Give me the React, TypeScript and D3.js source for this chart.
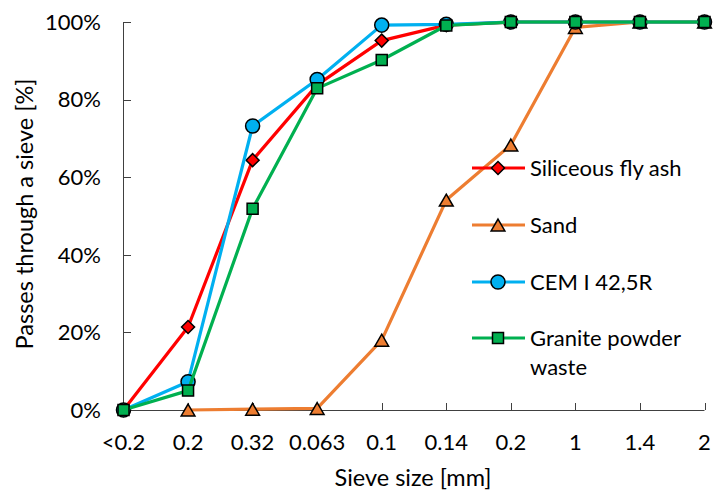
import React, { useEffect, useRef } from "react";
import * as d3 from "d3";

const sieveLabels = ["<0.2", "0.2", "0.32", "0.063", "0.1", "0.14", "0.2", "1", "1.4", "2"];
const yTicks = [0, 20, 40, 60, 80, 100];

const flyAsh = [0, 21.4, 64.4, 83.8, 95.2, 99.2, 100, 100, 100, 100];
const sand = [null, 0, 0.2, 0.4, 18, 54.1, 68.3, 98.6, 100, 100];
const cem = [0, 7.3, 73.2, 85.2, 99.2, 99.4, 100, 100, 100, 100];
const granite = [0, 5, 51.9, 82.9, 90.2, 99.1, 100, 100, 100, 100];

const seriesNames = ["Siliceous fly ash", "Sand", "CEM I 42,5R", "Granite powder waste"];
const seriesColors = ["#FF0000", "#ED7D31", "#00B0F0", "#00B050"];
const seriesMarkers = ["diamond", "triangle", "circle", "square"];

const FONT = "Lato, 'Open Sans', sans-serif";
const TICK_SIZE = "22px";
const TITLE_SIZE = "23.5px";

const App = () => {
  const svgRef = useRef<SVGSVGElement>(null);

  useEffect(() => {
    const svg = d3.select(svgRef.current);
    svg.selectAll("*").remove();

    const x = d3
      .scalePoint<number>()
      .domain(sieveLabels.map((_, i) => i))
      .range([123.5, 704.5]);
    const y = d3.scaleLinear().domain([0, 100]).range([410, 22]);

    // axes
    const axisColor = "#404040";
    svg
      .append("line")
      .attr("x1", 123.5)
      .attr("x2", 123.5)
      .attr("y1", 22)
      .attr("y2", 410)
      .attr("stroke", axisColor);
    svg
      .append("line")
      .attr("x1", 123.5)
      .attr("x2", 704.5)
      .attr("y1", 410.5)
      .attr("y2", 410.5)
      .attr("stroke", axisColor);

    svg
      .selectAll(".ytick")
      .data(yTicks)
      .enter()
      .append("line")
      .attr("x1", 123.5)
      .attr("x2", 131)
      .attr("y1", (d) => Math.round(y(d)) + 0.5)
      .attr("y2", (d) => Math.round(y(d)) + 0.5)
      .attr("stroke", axisColor);

    svg
      .selectAll(".ylab")
      .data(yTicks)
      .enter()
      .append("text")
      .attr("x", 101)
      .attr("y", (d) => y(d))
      .attr("dy", "0.35em")
      .attr("text-anchor", "end")
      .style("font-family", FONT)
      .style("font-size", TICK_SIZE)
      .style("fill", "#000")
      .text((d) => d + "%");

    svg
      .selectAll(".xtick")
      .data(sieveLabels.map((_, i) => i))
      .enter()
      .append("line")
      .attr("x1", (d) => Math.round(x(d)!) + 0.5)
      .attr("x2", (d) => Math.round(x(d)!) + 0.5)
      .attr("y1", 403)
      .attr("y2", 410)
      .attr("stroke", axisColor);

    svg
      .selectAll(".xlab")
      .data(sieveLabels)
      .enter()
      .append("text")
      .attr("x", (_, i) => x(i)!)
      .attr("y", 442)
      .attr("dy", "0.35em")
      .attr("text-anchor", "middle")
      .style("font-family", FONT)
      .style("font-size", TICK_SIZE)
      .style("fill", "#000")
      .text((d) => d);

    svg
      .append("text")
      .attr("x", 413)
      .attr("y", 478)
      .attr("dy", "0.35em")
      .attr("text-anchor", "middle")
      .style("font-family", FONT)
      .style("font-size", TITLE_SIZE)
      .text("Sieve size [mm]");

    svg
      .append("text")
      .attr("transform", "translate(25,214) rotate(-90)")
      .attr("dy", "0.35em")
      .attr("text-anchor", "middle")
      .style("font-family", FONT)
      .style("font-size", TITLE_SIZE)
      .text("Passes through a sieve [%]");

    const symbolFor = (m: string) => {
      if (m === "diamond") return d3.symbol().type(d3.symbolSquare).size(85);
      if (m === "triangle") return d3.symbol().type(d3.symbolTriangle).size(82);
      if (m === "circle") return d3.symbol().type(d3.symbolCircle).size(155);
      return d3.symbol().type(d3.symbolSquare).size(121);
    };
    const rotFor = (m: string) => (m === "diamond" ? " rotate(45)" : "");
    // d3 triangles sit on their centroid, shift so the box is centred on the point
    const shiftFor = (m: string) => (m === "triangle" ? 2 : 0);

    const allSeries = [flyAsh, sand, cem, granite];

    allSeries.forEach((vals, si) => {
      const pts = vals
        .map((v, i) => ({ i, v }))
        .filter((p) => p.v !== null) as { i: number; v: number }[];
      const line = d3
        .line<{ i: number; v: number }>()
        .x((d) => x(d.i)!)
        .y((d) => y(d.v));
      svg
        .append("path")
        .attr("d", line(pts))
        .attr("fill", "none")
        .attr("stroke", seriesColors[si])
        .attr("stroke-width", 3.2)
        .attr("stroke-linejoin", "round");
      const m = seriesMarkers[si];
      const sym = symbolFor(m);
      svg
        .selectAll(".m" + si)
        .data(pts)
        .enter()
        .append("path")
        .attr("d", sym()!)
        .attr("transform", (d) => `translate(${x(d.i)},${y(d.v) + shiftFor(m)})` + rotFor(m))
        .attr("fill", seriesColors[si])
        .attr("stroke", "#000")
        .attr("stroke-width", 1.5);
    });

    // legend
    const legendRows = [168, 225, 282, 338];
    seriesNames.forEach((name, si) => {
      const ly = legendRows[si];
      const g = svg.append("g");
      g.append("line")
        .attr("x1", 472)
        .attr("x2", 525)
        .attr("y1", ly)
        .attr("y2", ly)
        .attr("stroke", seriesColors[si])
        .attr("stroke-width", 3.2);
      const m = seriesMarkers[si];
      g.append("path")
        .attr("d", symbolFor(m)()!)
        .attr("transform", `translate(498,${ly + shiftFor(m)})` + rotFor(m))
        .attr("fill", seriesColors[si])
        .attr("stroke", "#000")
        .attr("stroke-width", 1.5);
      const words = name === "Granite powder waste" ? ["Granite powder", "waste"] : [name];
      words.forEach((w, wi) => {
        g.append("text")
          .attr("x", 530)
          .attr("y", ly + wi * 29.5)
          .attr("dy", "0.35em")
          .style("font-family", FONT)
          .style("font-size", TICK_SIZE)
          .style("fill", "#000")
          .text(w);
      });
    });
  }, []);

  return (
    <svg
      ref={svgRef}
      width={713}
      height={492}
      style={{ position: "absolute", left: 0, top: 0, background: "#fff" }}
    />
  );
};

export default App;
